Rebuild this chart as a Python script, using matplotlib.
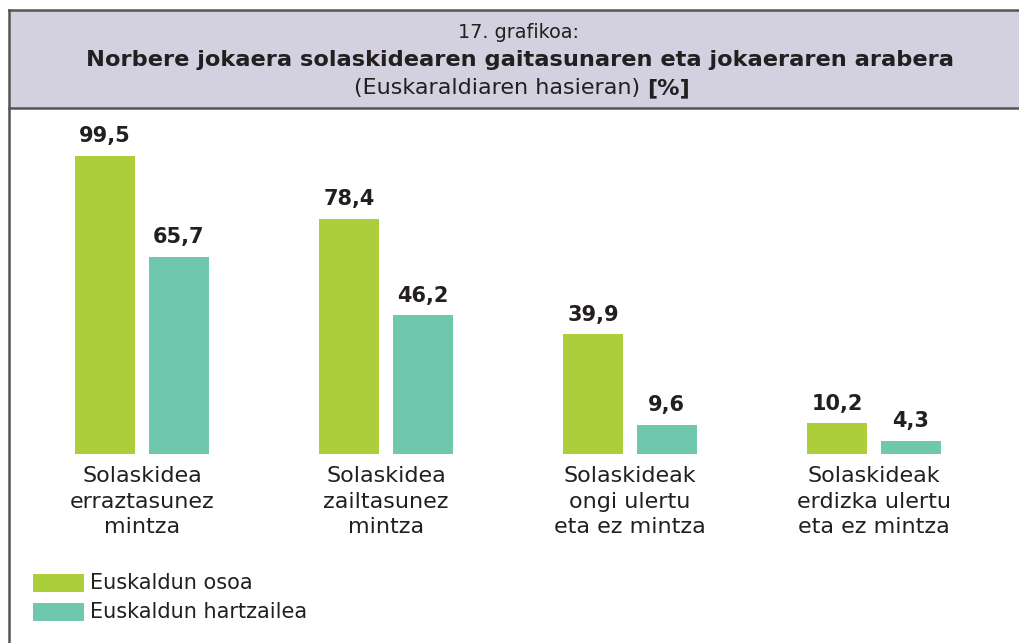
import matplotlib
matplotlib.use("Agg")
import matplotlib.pyplot as plt
from matplotlib.patches import Rectangle
import numpy as np

categories = ["Solaskidea\nerraztasunez\nmintza", "Solaskidea\nzailtasunez\nmintza",
              "Solaskideak\nongi ulertu\neta ez mintza", "Solaskideak\nerdizka ulertu\neta ez mintza"]
series_names = ["Euskaldun osoa", "Euskaldun hartzailea"]
osoa = [99.5, 78.4, 39.9, 10.2]
hartzailea = [65.7, 46.2, 9.6, 4.3]
colors = ["#adce3b", "#6fc8ae"]
title_num = "17. grafikoa:"
title_main = "Norbere jokaera solaskidearen gaitasunaren eta jokaeraren arabera"
title_sub = "(Euskaraldiaren hasieran) "
title_unit = "[%]"

W, H = 1019, 643
fig = plt.figure(figsize=(W/100, H/100), dpi=100)
txt = "#231f20"
font = ["DejaVu Sans"]

# frame and header
frame = fig.add_axes([0, 0, 1, 1])
frame.set_xlim(0, W); frame.set_ylim(H, 0); frame.axis("off")
frame.add_patch(Rectangle((9, 10), W, 98, facecolor="#d3d1df", edgecolor="none"))
frame.plot([9, W], [10, 10], color="#555555", lw=1.8)
frame.plot([9, W], [108, 108], color="#555555", lw=1.8)
frame.plot([9, 9], [10, H], color="#555555", lw=1.8)

frame.text(519, 33, title_num, ha="center", va="center", fontsize=13.8,
           family=font, color=txt)
frame.text(520, 60, title_main, ha="center", va="center", fontsize=16.2, fontweight="bold",
           family=font, color=txt)
t1 = frame.text(522, 88, title_sub, ha="left", va="center", fontsize=16, family=font, color=txt)
t2 = frame.text(522, 88, title_unit, ha="left", va="center", fontsize=16, fontweight="bold",
                family=font, color=txt)
fig.canvas.draw()
r = fig.canvas.get_renderer()
w1 = t1.get_window_extent(r).width
w2 = t2.get_window_extent(r).width
start = 522 - (w1 + w2) / 2
t1.set_x(start)
t2.set_x(start + w1)

# bars
ax = fig.add_axes([20/W, 189/H, 976/W, 300/H])
ax.set_xlim(-0.5, 3.5); ax.set_ylim(0, 100); ax.axis("off")
x = np.arange(len(categories))
bw = 60/244
off = 36.75/244
for vals, c, d in [(osoa, colors[0], -off), (hartzailea, colors[1], off)]:
    ax.bar(x + d, vals, width=bw, color=c)
    for xi, v in zip(x + d, vals):
        ax.annotate(f"{v:.1f}".replace(".", ","), (xi, v), xytext=(0, 7), textcoords="offset points",
                    ha="center", va="bottom", fontsize=15, fontweight="bold", family=font, color=txt)
for xi, lab in zip(x, categories):
    ax.annotate(lab, (xi, 0), xytext=(0, -9), textcoords="offset points", ha="center", va="top",
                fontsize=16, family=font, color=txt, linespacing=1.34)

# legend
for i, (n, c) in enumerate(zip(series_names, colors)):
    y = 574 + i * 29
    frame.add_patch(Rectangle((33, y), 51, 17.5, facecolor=c, edgecolor="none"))
    frame.text(90, y + 9, n, ha="left", va="center", fontsize=15, family=font, color=txt)

fig.savefig("out.png", dpi=100)
